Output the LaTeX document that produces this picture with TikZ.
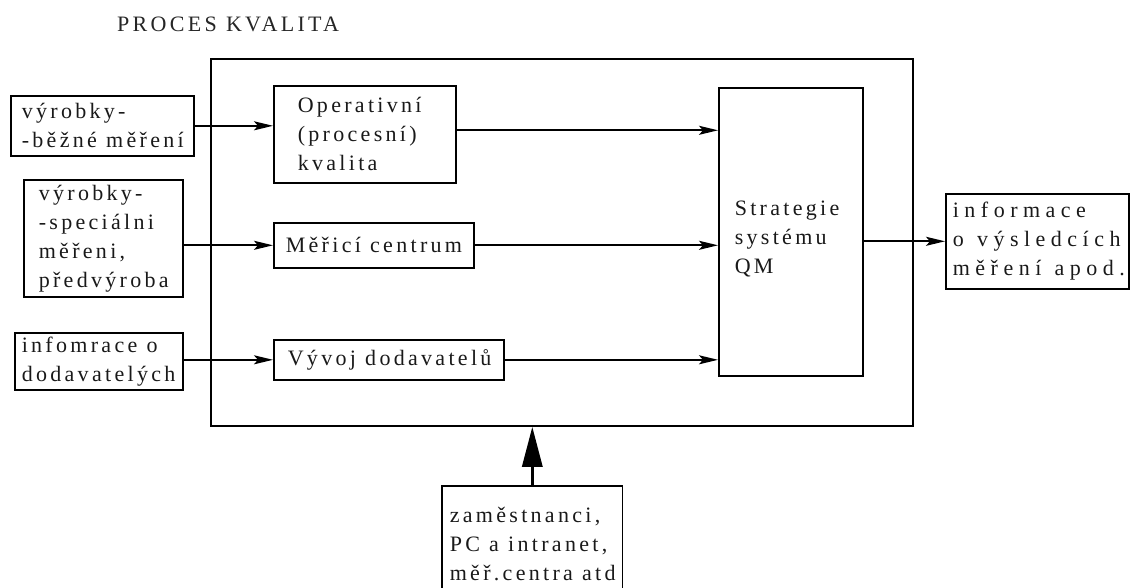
\documentclass[tikz,border=0pt]{standalone}
\usepackage{fontspec}
\setmainfont{Liberation Serif}[LetterSpace=15]
\newfontfamily\widefont{Liberation Serif}[LetterSpace=25]
\newcommand\ws{\nobreak\hspace{0.42em}\nobreak}
\newcommand\wws{\nobreak\hspace{0.6em}\nobreak}
\usetikzlibrary{arrows.meta}
\begin{document}
\begin{tikzpicture}[x=1pt,y=-1pt,
  box/.style={draw, line width=1.6pt, anchor=north west, align=left, inner ysep=0pt,
    font=\fontsize{22}{29}\selectfont, text=black!90},
  arr/.style={line width=1.8pt, -{Stealth[length=19pt,width=9pt,inset=4pt]}},
  bigarr/.style={line width=3.2pt, -{Triangle[length=40pt,width=20pt]}}
]
\useasboundingbox (0,0) rectangle (1131,588);
\clip (0,0) rectangle (1131,588);

\node[anchor=base west, inner sep=0pt, font=\fontsize{22}{26}\selectfont, text=black!85] (title) at (117,32) {PROCES\ws KVALITA};

\node[draw, line width=1.8pt, anchor=north west, minimum width=702pt, minimum height=367pt, inner sep=0pt] (frame) at (210,58) {};

\node[box, minimum width=183pt, minimum height=60pt, inner xsep=11pt, text width=161pt] (b1) at (10,95) {výrobky-\\-běžné\ws měření};
\node[box, minimum width=159pt, minimum height=117pt, inner xsep=15pt, text width=129pt] (b2) at (23,179) {výrobky-\\-speciálni\\měřeni,\\předvýroba};
\node[box, minimum width=168pt, minimum height=57pt, inner xsep=7pt, text width=154pt] (b3) at (14,332) {infomrace\ws o\\dodavatelých};

\node[box, minimum width=182pt, minimum height=97pt, inner xsep=24pt, text width=134pt] (op) at (273,85) {Operativní\\(procesní)\\kvalita};
\node[box, minimum width=200pt, minimum height=45pt, inner xsep=12pt, text width=176pt] (mc) at (273,222) {Měřicí\ws centrum};
\node[box, minimum width=230pt, minimum height=40pt, inner xsep=14pt, text width=202pt] (vd) at (273,339) {Vývoj\ws dodavatelů};

\node[box, minimum width=144pt, minimum height=288pt, inner xsep=16pt, text width=112pt] (st) at (718,87) {\rule{0pt}{29pt}Strategie\\systému\\QM};

\node[box, minimum width=183pt, minimum height=95pt, inner xsep=7pt, text width=169pt, font=\fontsize{22}{29}\widefont] (info) at (945,193) {informace\\o\wws výsledcích\\měření\wws apod.};

\node[box, draw=none, minimum width=179pt, minimum height=114pt, inner xsep=7pt, text width=165pt] (bot) at (442,486) {zaměstnanci,\\PC\ws a\ws intranet,\\měř.centra\ws atd};
\draw[line width=1.6pt] (bot.south west) -- (bot.north west) -- (bot.north east) -- (bot.south east);

\draw[arr] (b1.east) -- (b1.east -| op.west);
\draw[arr] ([yshift=4pt]op.east) -- ([yshift=4pt]op.east -| st.west);
\draw[arr] (mc.west -| b2.east) -- (mc.west);
\draw[arr] (mc.east) -- (mc.east -| st.west);
\draw[arr] (vd.west -| b3.east) -- (vd.west);
\draw[arr] (vd.east) -- (vd.east -| st.west);
\draw[arr] (info.west -| st.east) -- (info.west);
\draw[bigarr] (bot.north) -- (bot.north |- frame.south);
\end{tikzpicture}
\end{document}
